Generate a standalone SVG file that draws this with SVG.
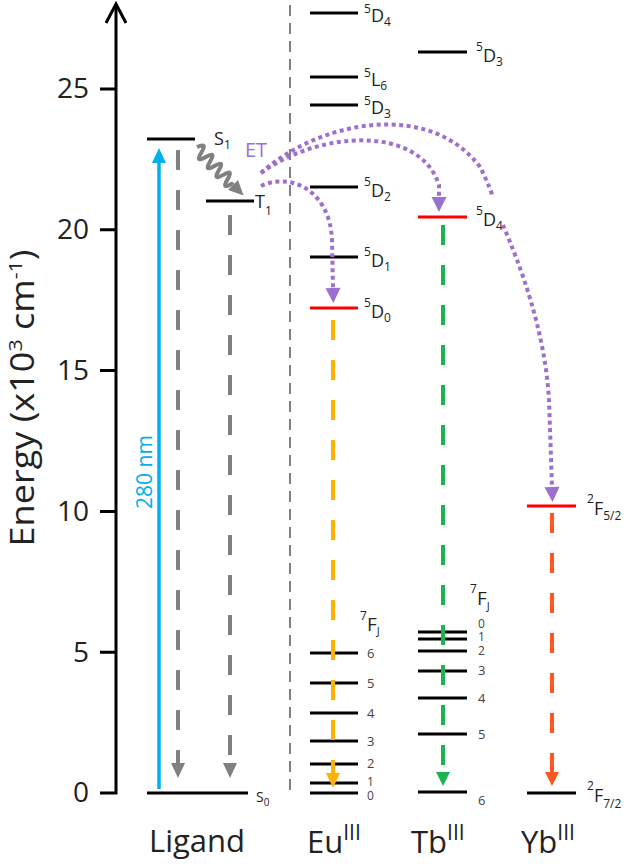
<svg xmlns="http://www.w3.org/2000/svg" width="626" height="864" viewBox="0 0 626 864">
<style>
text{font-family:"Open Sans","Noto Sans","DejaVu Sans",sans-serif;fill:#222}
.lv{stroke:#000;stroke-width:3;fill:none}
.red{stroke:#ff0000}
.lab{font-size:18px}
.sup{font-size:12px}
.num{font-size:13px;fill:#444}
.tnum{font-size:12px;fill:#444}
.tick{font-size:28px}
.big{font-size:31px}
.ax{stroke:#000;stroke-width:3;fill:none}
.gd{stroke:#808080;stroke-width:4;stroke-dasharray:20 20;fill:none}
.cd{stroke-width:4;stroke-dasharray:20 20;fill:none}
.pu{stroke:#9d6fd0;stroke-width:4;stroke-dasharray:4 3.5;fill:none}
</style>
<defs>
<marker id="mGray" markerUnits="userSpaceOnUse" orient="auto" overflow="visible" refX="0" refY="0" markerWidth="1" markerHeight="1"><path d="M0,-7 L15,0 L0,7 Z" fill="#808080"/></marker>
<marker id="mBlue" markerUnits="userSpaceOnUse" orient="auto" overflow="visible" refX="0" refY="0" markerWidth="1" markerHeight="1"><path d="M0,-7 L15,0 L0,7 Z" fill="#00b0f0"/></marker>
<marker id="mOrange" markerUnits="userSpaceOnUse" orient="auto" overflow="visible" refX="0" refY="0" markerWidth="1" markerHeight="1"><path d="M0,-7 L15,0 L0,7 Z" fill="#ffb000"/></marker>
<marker id="mGreen" markerUnits="userSpaceOnUse" orient="auto" overflow="visible" refX="0" refY="0" markerWidth="1" markerHeight="1"><path d="M0,-7 L14,0 L0,7 Z" fill="#1db350"/></marker>
<marker id="mRed" markerUnits="userSpaceOnUse" orient="auto" overflow="visible" refX="0" refY="0" markerWidth="1" markerHeight="1"><path d="M0,-7 L14,0 L0,7 Z" fill="#ff5722"/></marker>
<marker id="mPurple" markerUnits="userSpaceOnUse" orient="auto" overflow="visible" refX="0" refY="0" markerWidth="1" markerHeight="1"><path d="M0,-7.5 L15,0 L0,7.5 Z" fill="#9d6fd0"/></marker>
</defs>
<rect width="626" height="864" fill="#fff"/>

<g id="axis">
<path class="ax" d="M116,5 V793 H100 M100,652.2 H116 M100,511.4 H116 M100,370.6 H116 M100,229.8 H116 M100,89 H116"/>
<path class="ax" d="M106,23 L116,4 L126,23"/>
<text class="tick" x="89" y="802" text-anchor="end">0</text>
<text class="tick" x="89" y="661.5" text-anchor="end">5</text>
<text class="tick" x="89" y="520.5" text-anchor="end">10</text>
<text class="tick" x="89" y="380" text-anchor="end">15</text>
<text class="tick" x="89" y="239" text-anchor="end">20</text>
<text class="tick" x="89" y="98" text-anchor="end">25</text>
<text transform="translate(34,398) rotate(-90)" text-anchor="middle" font-size="32" textLength="297" lengthAdjust="spacingAndGlyphs">Energy (x10<tspan font-size="19" dy="-12">3</tspan><tspan dy="12"> cm</tspan><tspan font-size="19" dy="-12">-1</tspan><tspan dy="12">)</tspan></text>
</g>

<g id="separator"><line x1="290" y1="5" x2="290" y2="793" stroke="#808080" stroke-width="2" stroke-dasharray="11 7"/></g>

<g id="ligand-S1"><line class="lv" x1="147" y1="139" x2="195" y2="139"/><text x="214" y="145" font-size="18">S<tspan font-size="12" y="149">1</tspan></text></g>
<g id="ligand-T1"><line class="lv" x1="206" y1="201" x2="254" y2="201"/><text x="255" y="208" font-size="18">T<tspan font-size="12" y="215">1</tspan></text></g>
<g id="ligand-S0"><line class="lv" x1="147" y1="793" x2="248" y2="793"/><text x="256" y="802" font-size="14">S<tspan font-size="10" y="806">0</tspan></text></g>
<g id="label-ligand"><text class="big" x="197" y="852" text-anchor="middle" font-size="32">Ligand</text></g>

<g id="eu-5D4"><line class="lv" x1="310" y1="13" x2="358" y2="13"/><text class="lab" x="364" y="22"><tspan class="sup" y="13">5</tspan><tspan y="22">D</tspan><tspan class="sup" y="26">4</tspan></text></g>
<g id="eu-5L6"><line class="lv" x1="310" y1="77" x2="358" y2="77"/><text class="lab" x="364" y="86"><tspan class="sup" y="77">5</tspan><tspan y="86">L</tspan><tspan class="sup" y="90">6</tspan></text></g>
<g id="eu-5D3"><line class="lv" x1="310" y1="105" x2="358" y2="105"/><text class="lab" x="364" y="114"><tspan class="sup" y="105">5</tspan><tspan y="114">D</tspan><tspan class="sup" y="118">3</tspan></text></g>
<g id="eu-5D2"><line class="lv" x1="310" y1="187" x2="358" y2="187"/><text class="lab" x="364" y="197"><tspan class="sup" y="186">5</tspan><tspan y="197">D</tspan><tspan class="sup" y="201">2</tspan></text></g>
<g id="eu-5D1"><line class="lv" x1="310" y1="257" x2="358" y2="257"/><text class="lab" x="364" y="267"><tspan class="sup" y="256">5</tspan><tspan y="267">D</tspan><tspan class="sup" y="271">1</tspan></text></g>
<g id="eu-5D0"><line class="lv red" x1="310" y1="308" x2="358" y2="308"/><text class="lab" x="364" y="318"><tspan class="sup" y="307">5</tspan><tspan y="318">D</tspan><tspan class="sup" y="322">0</tspan></text></g>
<g id="eu-7F">
<text x="360" y="631" font-size="19"><tspan class="sup" y="620">7</tspan><tspan y="631">F</tspan><tspan font-size="11" y="635">J</tspan></text>
<line class="lv" x1="310" y1="653" x2="358" y2="653"/><text class="num" x="367" y="658">6</text>
<line class="lv" x1="310" y1="683" x2="358" y2="683"/><text class="num" x="367" y="688">5</text>
<line class="lv" x1="310" y1="713" x2="358" y2="713"/><text class="num" x="367" y="718">4</text>
<line class="lv" x1="310" y1="741" x2="358" y2="741"/><text class="num" x="367" y="746">3</text>
<line class="lv" x1="310" y1="764" x2="358" y2="764"/><text class="num" x="367" y="768">2</text>
<line class="lv" x1="310" y1="783" x2="358" y2="783"/><text class="tnum" x="367" y="786">1</text>
<line class="lv" x1="310" y1="793" x2="358" y2="793"/><text class="tnum" x="367" y="800">0</text>
</g>
<g id="label-eu"><text class="big" x="307" y="853">Eu<tspan font-size="21" y="840">III</tspan></text></g>

<g id="tb-5D3"><line class="lv" x1="418" y1="52" x2="467" y2="52"/><text class="lab" x="476" y="62"><tspan class="sup" y="51">5</tspan><tspan y="62">D</tspan><tspan class="sup" y="66">3</tspan></text></g>
<g id="tb-5D4"><line class="lv red" x1="418" y1="217" x2="467" y2="217"/><text class="lab" x="476" y="226"><tspan class="sup" y="215">5</tspan><tspan y="226">D</tspan><tspan class="sup" y="230">4</tspan></text></g>
<g id="tb-7F">
<text x="470" y="605" font-size="19"><tspan class="sup" y="593">7</tspan><tspan y="605">F</tspan><tspan font-size="11" y="610">J</tspan></text>
<line class="lv" x1="418" y1="632" x2="467" y2="632"/><text class="tnum" x="478" y="628">0</text>
<line class="lv" x1="418" y1="639" x2="467" y2="639"/><text class="tnum" x="478" y="641">1</text>
<line class="lv" x1="418" y1="651" x2="467" y2="651"/><text class="tnum" x="478" y="655">2</text>
<line class="lv" x1="418" y1="671" x2="467" y2="671"/><text class="num" x="478" y="675">3</text>
<line class="lv" x1="418" y1="698" x2="467" y2="698"/><text class="num" x="478" y="703">4</text>
<line class="lv" x1="418" y1="734" x2="467" y2="734"/><text class="num" x="478" y="739">5</text>
<line class="lv" x1="418" y1="792" x2="467" y2="792"/><text class="num" x="478" y="805">6</text>
</g>
<g id="label-tb"><text class="big" x="411" y="853">Tb<tspan font-size="21" y="840">III</tspan></text></g>

<g id="yb-2F52"><line class="lv red" x1="527" y1="506" x2="576" y2="506"/><text class="lab" x="587" y="515"><tspan class="sup" y="503">2</tspan><tspan y="515">F</tspan><tspan class="sup" y="520">5/2</tspan></text></g>
<g id="yb-2F72"><line class="lv" x1="527" y1="793" x2="576" y2="793"/><text class="lab" x="587" y="802"><tspan class="sup" y="790">2</tspan><tspan y="802">F</tspan><tspan class="sup" y="808">7/2</tspan></text></g>
<g id="label-yb"><text class="big" x="521" y="853">Yb<tspan font-size="21" y="840">III</tspan></text></g>

<g id="connectors">
<path d="M159,789 V163" stroke="#00b0f0" stroke-width="3.5" fill="none" marker-end="url(#mBlue)"/>
<text transform="translate(152,472) rotate(-90)" text-anchor="middle" font-size="21" style="fill:#00b0f0">280 nm</text>
<path class="gd" d="M178,150 V763" marker-end="url(#mGray)"/>
<path class="gd" d="M230,215 V763" marker-end="url(#mGray)"/>
<path d="M197,147 Q208,142 201.36,152.48 Q194.7,163.4 205.71,156.96 Q216.7,150.5 210.07,161.44 Q203.4,172.4 214.42,165.92 Q225.4,159.5 218.78,170.41 Q212.1,181.3 223.14,174.89 Q234.1,168.5 227.49,179.37 Q220.8,190.3 231.85,183.85 L233,185" stroke="#808080" stroke-width="4" fill="none" stroke-linejoin="round" marker-end="url(#mGray)"/>
<text x="245" y="157" font-size="20" style="fill:#9d6fd0">ET</text>
<path class="pu" d="M261,186 C290,172 330,190 332,240 L333,288" marker-end="url(#mPurple)"/>
<path class="pu" d="M261,173 C320,130 420,125 439,185 L439,197" marker-end="url(#mPurple)"/>
<path class="pu" d="M261,173 C320,120 430,100 480,167 Q487,180 493,197"/>
<path class="pu" d="M503,225 C520,265 545,330 549,400 L552,487" marker-end="url(#mPurple)"/>
<path class="cd" stroke="#ffb000" d="M333,320 V773" marker-end="url(#mOrange)"/>
<path class="cd" stroke="#1db350" d="M443,225 V772" marker-end="url(#mGreen)"/>
<path class="cd" stroke="#ff5722" d="M552,513 V772" marker-end="url(#mRed)"/>
</g>
</svg>
